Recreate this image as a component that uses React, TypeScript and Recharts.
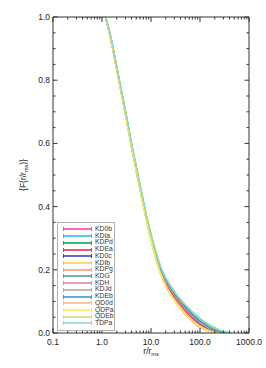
import { LineChart, Line, XAxis, YAxis, Legend } from 'recharts';

// radius grid, r / r_ms
const radii = [0.35, 1, 1.15, 1.3, 1.5, 1.8, 2.2, 2.7, 3.3, 4, 5, 6, 7, 8.5, 10, 13, 16, 20, 25, 32, 40, 50, 65, 80, 100, 130, 160, 200, 250, 320, 400, 450];

const KD0b = [1, 1, 1, 0.973, 0.932, 0.872, 0.802, 0.731, 0.66, 0.59, 0.515, 0.455, 0.405, 0.348, 0.303, 0.238, 0.196, 0.162, 0.137, 0.112, 0.093, 0.075, 0.056, 0.044, 0.031, 0.02, 0.012, 0.006, 0.002, 0, null, null];
const KDIa = [1, 1, 1, 0.975, 0.935, 0.875, 0.805, 0.735, 0.665, 0.595, 0.52, 0.46, 0.41, 0.35, 0.305, 0.24, 0.198, 0.165, 0.14, 0.115, 0.096, 0.078, 0.059, 0.046, 0.033, 0.022, 0.014, 0.007, 0.003, 0.001, 0, null];
const KDPd = [null, 1, 1, 0.976, 0.937, 0.877, 0.807, 0.738, 0.668, 0.598, 0.523, 0.463, 0.413, 0.352, 0.307, 0.243, 0.201, 0.168, 0.143, 0.119, 0.1, 0.082, 0.063, 0.05, 0.037, 0.025, 0.016, 0.009, 0.004, 0.001, 0, null];
const KDEa = [1, 1, 1, 0.972, 0.931, 0.871, 0.801, 0.73, 0.659, 0.589, 0.514, 0.454, 0.404, 0.346, 0.3, 0.234, 0.192, 0.158, 0.132, 0.107, 0.088, 0.07, 0.051, 0.039, 0.027, 0.017, 0.01, 0.004, 0.001, 0, null, null];
const KD0c = [1, 1, 1, 0.975, 0.935, 0.875, 0.805, 0.734, 0.664, 0.594, 0.519, 0.459, 0.409, 0.35, 0.305, 0.24, 0.198, 0.164, 0.139, 0.114, 0.095, 0.077, 0.058, 0.045, 0.032, 0.021, 0.013, 0.007, 0.003, 0, null, null];
const KDIb = [1, 1, 1, 0.972, 0.93, 0.87, 0.8, 0.728, 0.658, 0.588, 0.512, 0.452, 0.402, 0.34, 0.295, 0.228, 0.185, 0.15, 0.123, 0.098, 0.078, 0.06, 0.042, 0.03, 0.02, 0.011, 0.005, 0.001, 0, null, null, null];
const KDPg = [1, 1, 1, 0.972, 0.93, 0.87, 0.8, 0.729, 0.659, 0.589, 0.513, 0.453, 0.403, 0.342, 0.297, 0.23, 0.187, 0.152, 0.125, 0.1, 0.08, 0.062, 0.044, 0.032, 0.021, 0.012, 0.006, 0.002, 0, null, null, null];
const KDG = [null, 1, 1, 0.978, 0.94, 0.88, 0.81, 0.741, 0.671, 0.601, 0.527, 0.467, 0.417, 0.356, 0.311, 0.248, 0.206, 0.173, 0.148, 0.124, 0.105, 0.088, 0.07, 0.057, 0.044, 0.032, 0.023, 0.015, 0.008, 0.003, 0, null];
const KDH = [1, 1, 1, 0.975, 0.934, 0.874, 0.804, 0.734, 0.664, 0.594, 0.519, 0.459, 0.409, 0.349, 0.304, 0.239, 0.197, 0.163, 0.138, 0.113, 0.094, 0.076, 0.057, 0.045, 0.032, 0.021, 0.013, 0.007, 0.002, 0, null, null];
const KDJd = [1, 1, 1, 0.976, 0.936, 0.876, 0.806, 0.736, 0.666, 0.596, 0.521, 0.461, 0.411, 0.351, 0.306, 0.242, 0.2, 0.167, 0.142, 0.118, 0.099, 0.081, 0.062, 0.049, 0.036, 0.024, 0.015, 0.008, 0.003, 0.001, 0, null];
const KDEb = [1, 1, 1, 0.976, 0.937, 0.877, 0.807, 0.737, 0.667, 0.597, 0.522, 0.462, 0.412, 0.353, 0.308, 0.244, 0.202, 0.169, 0.144, 0.12, 0.101, 0.083, 0.064, 0.051, 0.038, 0.026, 0.017, 0.01, 0.005, 0.002, 0, null];
const QD0d = [1, 1, 1, 0.971, 0.929, 0.869, 0.799, 0.727, 0.657, 0.587, 0.511, 0.451, 0.401, 0.338, 0.293, 0.226, 0.183, 0.148, 0.121, 0.096, 0.076, 0.058, 0.04, 0.028, 0.018, 0.01, 0.004, 0.001, 0, null, null, null];
const QDPa = [1, 1, 1, 0.972, 0.93, 0.87, 0.8, 0.729, 0.658, 0.588, 0.513, 0.453, 0.403, 0.341, 0.296, 0.229, 0.186, 0.151, 0.124, 0.099, 0.079, 0.061, 0.043, 0.031, 0.021, 0.012, 0.006, 0.002, 0, null, null, null];
const QDEb = [null, 1, 1, 0.978, 0.94, 0.88, 0.81, 0.742, 0.672, 0.602, 0.528, 0.468, 0.418, 0.357, 0.312, 0.249, 0.207, 0.174, 0.149, 0.125, 0.106, 0.089, 0.071, 0.058, 0.046, 0.033, 0.024, 0.016, 0.009, 0.004, 0.001, 0];
const TDPa = [null, 1, 1, 0.978, 0.94, 0.88, 0.81, 0.742, 0.672, 0.602, 0.528, 0.468, 0.418, 0.358, 0.313, 0.25, 0.208, 0.175, 0.15, 0.126, 0.107, 0.09, 0.072, 0.059, 0.047, 0.034, 0.025, 0.017, 0.01, 0.004, 0.001, 0];

const seriesList = [
  { key: 'KD0b', color: '#ff44aa', values: KD0b },
  { key: 'KDIa', color: '#33bbee', values: KDIa },
  { key: 'KDPd', color: '#11aa55', values: KDPd },
  { key: 'KDEa', color: '#ee3344', values: KDEa },
  { key: 'KD0c', color: '#3c44a8', values: KD0c },
  { key: 'KDIb', color: '#ffcc44', values: KDIb },
  { key: 'KDPg', color: '#ff9977', values: KDPg },
  { key: 'KDG', color: '#44aa88', values: KDG },
  { key: 'KDH', color: '#dd88aa', values: KDH },
  { key: 'KDJd', color: '#aaaaaa', values: KDJd },
  { key: 'KDEb', color: '#3399dd', values: KDEb },
  { key: 'QD0d', color: '#ffbb88', values: QD0d },
  { key: 'QDPa', color: '#ffee44', values: QDPa },
  { key: 'QDEb', color: '#ccdd88', values: QDEb },
  { key: 'TDPa', color: '#88ddbb', values: TDPa },
];

const xMajorTicks = [0.1, 1, 10, 100, 1000];
const xTickLabels = ['0.1', '1.0', '10.0', '100.0', '1000.0'];
const xAllTicks = [
  0.1, 0.2, 0.3, 0.4, 0.5, 0.6, 0.7, 0.8, 0.9,
  1, 2, 3, 4, 5, 6, 7, 8, 9,
  10, 20, 30, 40, 50, 60, 70, 80, 90,
  100, 200, 300, 400, 500, 600, 700, 800, 900, 1000,
];
const yMajorTicks = [0, 0.2, 0.4, 0.6, 0.8, 1];
const yTickLabels = ['0.0', '0.2', '0.4', '0.6', '0.8', '1.0'];
const yAllTicks = [0, 0.05, 0.1, 0.15, 0.2, 0.25, 0.3, 0.35, 0.4, 0.45, 0.5, 0.55, 0.6, 0.65, 0.7, 0.75, 0.8, 0.85, 0.9, 0.95, 1];

const data = radii.map((r, i) => {
  const row: any = { r };
  seriesList.forEach(s => { row[s.key] = s.values[i]; });
  return row;
});

const AXIS = '#333';
const FONT = '"Liberation Sans", Arial, sans-serif';

const BottomTick = ({ x, y, payload }: any) => {
  const idx = xMajorTicks.indexOf(payload.value);
  const major = idx >= 0;
  return (
    <g>
      <line x1={x} x2={x} y1={y} y2={y - (major ? 5 : 2.5)} stroke={AXIS} />
      {major && (
        <text x={x} y={y + 12} textAnchor="middle" fontSize={8.5} fill="#222" fontFamily={FONT}>
          {xTickLabels[idx]}
        </text>
      )}
    </g>
  );
};

const TopTick = ({ x, y, payload }: any) => {
  const major = xMajorTicks.includes(payload.value);
  return <line x1={x} x2={x} y1={y} y2={y + (major ? 5 : 2.5)} stroke={AXIS} />;
};

const LeftTick = ({ x, y, payload }: any) => {
  const idx = yMajorTicks.indexOf(payload.value);
  const major = idx >= 0;
  return (
    <g>
      <line x1={x} x2={x + (major ? 4.5 : 2.5)} y1={y} y2={y} stroke={AXIS} />
      {major && (
        <text x={x - 3} y={y + 3} textAnchor="end" fontSize={8.5} fill="#222" fontFamily={FONT}>
          {yTickLabels[idx]}
        </text>
      )}
    </g>
  );
};

const RightTick = ({ x, y, payload }: any) => {
  const major = yMajorTicks.includes(payload.value);
  return <line x1={x} x2={x - (major ? 4.5 : 2.5)} y1={y} y2={y} stroke={AXIS} />;
};

const XTitle = ({ viewBox }: any) => {
  const cx = viewBox.x + viewBox.width / 2;
  return (
    <text x={cx} y={viewBox.y + 21} textAnchor="middle" fontSize={8.5} fill="#222" fontFamily={FONT}>
      r/r<tspan fontSize={5.5} dy={2}>ms</tspan>
    </text>
  );
};

const YTitle = ({ viewBox }: any) => {
  const cy = viewBox.y + viewBox.height / 2;
  const cx = viewBox.x + 3;
  return (
    <text x={cx} y={cy} textAnchor="middle" fontSize={8.5} fill="#222" fontFamily={FONT}
      transform={`rotate(-90 ${cx} ${cy})`}>
      {'{F(r/r'}<tspan fontSize={5.5} dy={2}>ms</tspan><tspan dy={-2}>{')}'}</tspan>
    </text>
  );
};

const LegendBox = () => (
  <div style={{
    border: '1px solid #b0b0b0', background: '#fff', padding: '3px 0 3px 4px',
    width: 52, fontFamily: FONT, fontSize: 6.8, color: '#333',
  }}>
    {seriesList.map(s => (
      <div key={s.key} style={{ display: 'flex', alignItems: 'center', height: 6.72 }}>
        <svg width={31} height={6} style={{ display: 'block' }}>
          <line x1={1.5} x2={29.5} y1={3} y2={3} stroke={s.color} strokeWidth={1.6} />
          <line x1={1.5} x2={1.5} y1={1} y2={5} stroke={s.color} strokeWidth={1} />
          <line x1={29.5} x2={29.5} y1={1} y2={5} stroke={s.color} strokeWidth={1} />
        </svg>
        <span style={{ marginLeft: 2, lineHeight: '6.72px' }}>{s.key}</span>
      </div>
    ))}
  </div>
);

export default function App() {
  return (
    <div style={{ position: 'absolute', left: 0, top: 0, background: '#fff' }}>
      <LineChart width={266} height={368} data={data}
        margin={{ top: 7, right: 7, bottom: 15, left: 23 }}>
        <XAxis dataKey="r" type="number" scale="log" domain={[0.1, 1000]} allowDataOverflow
          ticks={xAllTicks} interval={0} tickSize={0} tickMargin={0} tickLine={false}
          tick={<BottomTick />} height={20} stroke={AXIS} label={<XTitle />} />
        <XAxis xAxisId="top" orientation="top" dataKey="r" type="number" scale="log" domain={[0.1, 1000]}
          allowDataOverflow ticks={xAllTicks} interval={0} tickSize={0} tickMargin={0} tickLine={false}
          tick={<TopTick />} height={10} stroke={AXIS} />
        <YAxis type="number" domain={[0, 1]} allowDataOverflow ticks={yAllTicks} interval={0}
          tickSize={0} tickMargin={0} tickLine={false} tick={<LeftTick />} width={30} stroke={AXIS}
          label={<YTitle />} />
        <YAxis yAxisId="right" orientation="right" type="number" domain={[0, 1]} allowDataOverflow
          ticks={yAllTicks} interval={0} tickSize={0} tickMargin={0} tickLine={false}
          tick={<RightTick />} width={10} stroke={AXIS} />
        <Legend layout="vertical" align="center" verticalAlign="middle" content={<LegendBox />}
          wrapperStyle={{ left: 57, top: 222, width: 58, right: 'auto', bottom: 'auto' }} />
        {seriesList.map(s => (
          <Line key={s.key} dataKey={s.key} type="monotone" stroke={s.color} strokeWidth={1.3}
            dot={false} isAnimationActive={false} connectNulls={false} />
        ))}
      </LineChart>
    </div>
  );
}
